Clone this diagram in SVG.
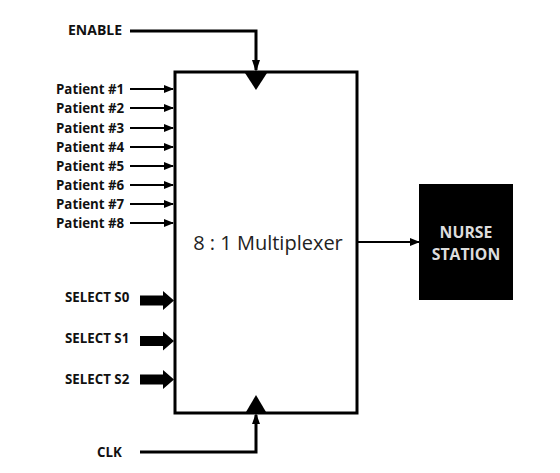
<svg xmlns="http://www.w3.org/2000/svg" width="560" height="473" viewBox="0 0 560 473">
<defs>
<marker id="ah" markerWidth="10" markerHeight="8" refX="9" refY="4" orient="auto" markerUnits="userSpaceOnUse"><path d="M0,0 L10,4 L0,8 z" fill="#000"/></marker>
<style>
.lbl{font-family:"Open Sans","Liberation Sans",sans-serif;font-weight:bold;font-size:13.3px;fill:#111}
.thin{stroke:#000;stroke-width:2;fill:none}
.med{stroke:#000;stroke-width:3;fill:none}
</style>
</defs>
<rect width="560" height="473" fill="#fff"/>
<g id="mux">
<rect x="175" y="72" width="182" height="341" fill="#fff" stroke="#000" stroke-width="3"/>
<text x="268" y="250" text-anchor="middle" font-family="'Open Sans','Liberation Sans',sans-serif" font-size="20" fill="#222">8 : 1 Multiplexer</text>
</g>
<g id="nurse">
<rect x="419" y="184" width="94" height="116" fill="#000"/>
<text x="466" y="238" text-anchor="middle" class="lbl" style="fill:#ddd;font-size:15.8px">NURSE</text>
<text x="466" y="260" text-anchor="middle" class="lbl" style="fill:#ddd;font-size:15.8px">STATION</text>
</g>
<g id="labels">
<text x="68" y="35" class="lbl" style="font-size:14px">ENABLE</text>
<text x="56" y="93.5" class="lbl">Patient #1</text>
<text x="56" y="112.5" class="lbl">Patient #2</text>
<text x="56" y="132.5" class="lbl">Patient #3</text>
<text x="56" y="151.5" class="lbl">Patient #4</text>
<text x="56" y="170.5" class="lbl">Patient #5</text>
<text x="56" y="189.5" class="lbl">Patient #6</text>
<text x="56" y="208.5" class="lbl">Patient #7</text>
<text x="56" y="227.5" class="lbl">Patient #8</text>
<text x="65" y="302" class="lbl">SELECT S0</text>
<text x="65" y="343" class="lbl">SELECT S1</text>
<text x="65" y="384" class="lbl">SELECT S2</text>
<text x="97" y="457" class="lbl">CLK</text>
</g>
<g id="connectors">
<path class="med" d="M130,31 H256 V70"/>
<path d="M252,60 L260,60 L256,72 z" fill="#000"/>
<path d="M245,73 L267,73 L256,90 z" fill="#000"/>
<path class="med" d="M140,452 H256 V415"/>
<path d="M252,424 L260,424 L256,413 z" fill="#000"/>
<path d="M246,412 L266,412 L256,395 z" fill="#000"/>
<line class="thin" x1="130" y1="89" x2="173" y2="89" marker-end="url(#ah)"/>
<line class="thin" x1="130" y1="108" x2="173" y2="108" marker-end="url(#ah)"/>
<line class="thin" x1="130" y1="128" x2="173" y2="128" marker-end="url(#ah)"/>
<line class="thin" x1="130" y1="147" x2="173" y2="147" marker-end="url(#ah)"/>
<line class="thin" x1="130" y1="166" x2="173" y2="166" marker-end="url(#ah)"/>
<line class="thin" x1="130" y1="185" x2="173" y2="185" marker-end="url(#ah)"/>
<line class="thin" x1="130" y1="204" x2="173" y2="204" marker-end="url(#ah)"/>
<line class="thin" x1="130" y1="223" x2="173" y2="223" marker-end="url(#ah)"/>
<path d="M140,295.5 H163 V291 L174,300.5 L163,310 V305.5 H140 z" fill="#000"/>
<path d="M140,336 H163 V331.5 L174,341 L163,350.5 V346 H140 z" fill="#000"/>
<path d="M140,374.5 H163 V370 L174,379.5 L163,389 V384.5 H140 z" fill="#000"/>
<line class="thin" x1="358" y1="242" x2="419" y2="242" marker-end="url(#ah)"/>
</g>
</svg>
